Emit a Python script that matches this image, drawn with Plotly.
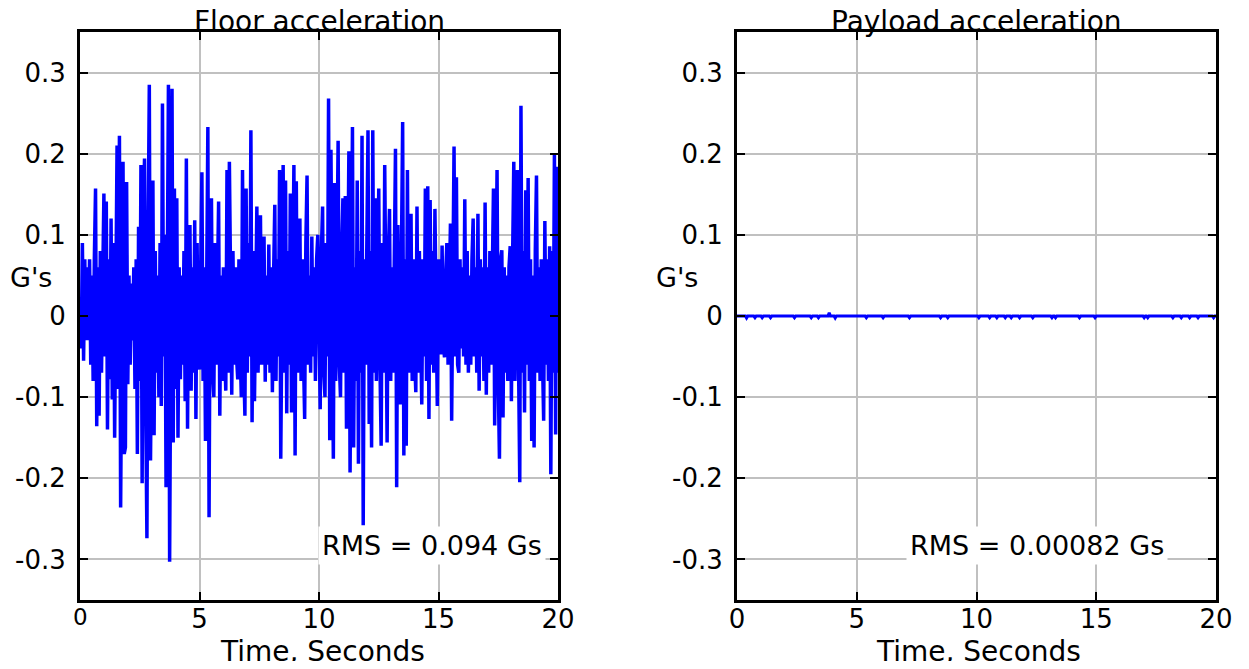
import plotly.graph_objects as go

# ---------------- data ----------------
sample_rate_hz = 20  # samples per second (time grid 0..20 s)

floor_g = [
    # 0-1 s
    0.02, -0.04, 0.09, -0.055, 0.07, -0.03, 0.06, -0.03, 0.07, -0.06,
    0.05, -0.08, 0.07, 0.157, -0.136, 0.06, -0.123, 0.08, -0.07, 0.09,
    # 1-2 s
    0.151, -0.05, 0.141, -0.14, 0.07, -0.078, 0.12, -0.103, 0.09, -0.15,
    0.06, 0.21, -0.09, 0.222, -0.236, 0.08, 0.19, -0.17, -0.162, 0.165,
    # 2-3 s
    -0.084, 0.05, -0.06, 0.04, -0.03, 0.06, -0.09, 0.07, -0.17, 0.11,
    -0.08, 0.186, -0.206, 0.13, 0.194, -0.11, -0.274, 0.1, 0.285, -0.178,
    # 3-4 s
    0.06, 0.167, -0.147, 0.08, -0.07, 0.05, -0.1, 0.09, -0.111, 0.262,
    -0.05, 0.1, -0.211, 0.07, 0.285, -0.303, 0.1, 0.28, -0.156, 0.157,
    # 4-5 s
    -0.09, 0.145, -0.15, 0.06, -0.078, 0.05, -0.06, 0.08, -0.105, 0.194,
    -0.139, 0.07, 0.112, -0.092, 0.06, -0.07, 0.118, -0.127, 0.09, -0.05,
    # 5-6 s
    -0.066, 0.07, 0.177, -0.08, 0.06, -0.154, 0.09, 0.233, -0.248, 0.08,
    0.145, -0.07, -0.1, 0.09, -0.06, 0.07, 0.141, -0.123, 0.05, -0.08,
    # 6-7 s
    0.06, -0.04, -0.092, 0.18, -0.07, 0.19, 0.05, -0.097, 0.08, -0.06,
    0.06, -0.05, -0.078, 0.07, -0.04, -0.1, 0.18, -0.06, -0.123, 0.157,
    # 7-8 s
    -0.07, 0.09, -0.05, 0.229, -0.131, 0.08, -0.105, 0.06, 0.135, -0.07,
    0.05, 0.124, -0.06, 0.07, 0.098, -0.081, 0.05, -0.06, 0.088, -0.07,
    # 8-9 s
    0.06, -0.094, 0.05, 0.137, -0.08, 0.07, -0.05, 0.18, -0.176, 0.09,
    0.186, -0.07, 0.167, -0.12, 0.08, -0.06, 0.151, -0.119, 0.07, 0.186,
    # 9-10 s
    -0.172, 0.166, -0.07, 0.06, 0.12, -0.08, 0.07, -0.05, -0.127, 0.09,
    0.173, -0.06, 0.05, -0.07, 0.098, -0.05, 0.06, -0.08, 0.07, 0.1,
    # 10-11 s
    -0.06, -0.115, 0.08, 0.135, -0.07, -0.1, 0.09, -0.05, 0.268, -0.153,
    0.205, 0.06, -0.176, 0.164, -0.08, 0.07, 0.216, -0.06, -0.1, 0.08,
    # 11-12 s
    0.145, -0.07, 0.148, -0.139, 0.07, 0.203, -0.193, 0.09, 0.233, -0.162,
    0.06, -0.08, 0.167, -0.182, 0.08, -0.07, 0.222, -0.258, 0.07, -0.06,
    # 12-13 s
    0.09, 0.229, -0.133, 0.08, -0.162, 0.229, -0.07, 0.145, -0.08, 0.06,
    0.157, -0.06, -0.16, 0.09, -0.07, 0.186, -0.05, -0.156, 0.07, 0.132,
    # 13-14 s
    -0.08, 0.06, -0.07, 0.09, 0.206, -0.211, 0.112, -0.06, -0.109, 0.08,
    0.239, -0.172, 0.07, -0.16, 0.18, -0.07, 0.06, 0.126, -0.08, 0.07,
    # 14-15 s
    -0.05, -0.094, 0.135, -0.07, 0.08, -0.06, -0.109, 0.07, -0.05, 0.157,
    -0.08, 0.16, -0.127, 0.143, -0.06, 0.08, -0.07, 0.132, -0.05, -0.111,
    # 15-16 s
    0.07, -0.04, -0.047, 0.087, -0.03, -0.051, 0.05, 0.09, -0.06, 0.07,
    0.114, -0.129, 0.06, 0.209, -0.05, 0.171, -0.06, -0.07, 0.07, -0.04,
    # 16-17 s
    0.06, -0.05, 0.144, -0.06, 0.08, -0.07, 0.05, -0.06, 0.07, 0.12,
    -0.05, 0.06, -0.07, 0.126, -0.092, 0.07, -0.05, 0.06, -0.08, 0.14,
    # 17-18 s
    -0.097, 0.06, -0.07, 0.08, -0.06, 0.07, 0.157, -0.135, 0.09, 0.18,
    -0.08, -0.176, 0.07, 0.081, -0.125, 0.06, -0.07, 0.05, -0.08, 0.06,
    # 18-19 s
    0.086, -0.105, 0.07, 0.19, -0.08, 0.09, 0.18, -0.06, -0.205, 0.259,
    -0.07, 0.08, -0.119, 0.155, -0.06, 0.17, -0.08, 0.07, -0.154, 0.05,
    # 19-20 s
    -0.162, 0.08, 0.173, -0.07, 0.06, -0.08, 0.07, -0.05, -0.129, 0.117,
    -0.06, 0.07, -0.08, 0.086, -0.195, 0.08, -0.07, 0.2, -0.146, 0.184,
    # 20 s
    -0.07,
]

payload_g = [
    0, 0, 0, 0, 0, 0, 0, 0, -0.0025, 0, 0, 0, 0, 0, 0, -0.002, 0, 0, 0, 0,
    0, -0.002, 0, 0, 0, 0, 0, 0, -0.002, 0, 0, 0, 0, 0, 0, 0, 0, 0, 0, 0,
    0, 0, 0, 0, 0, 0, 0, 0, -0.002, 0, 0, 0, 0, 0, 0, 0, 0, 0, 0, 0,
    0, 0, -0.002, 0, 0, 0, 0, 0, -0.002, 0, 0, 0, 0, 0, 0, 0, 0, 0.004, 0, 0,
    0, 0, -0.0025, 0, 0, 0, 0, 0, 0, 0, 0, 0, 0, 0, 0, 0, 0, 0, 0, 0,
    0, 0, 0, 0, 0, 0, 0, 0, -0.002, 0, 0, 0, 0, 0, 0, 0, 0, 0, 0, 0,
    0, 0, -0.002, 0, 0, 0, 0, 0, 0, 0, 0, 0, 0, 0, 0, 0, 0, 0, 0, 0,
    0, 0, 0, 0, -0.002, 0, 0, 0, 0, 0, 0, 0, 0, 0, 0, 0, 0, 0, 0, 0,
    0, 0, 0, 0, 0, 0, 0, 0, 0, 0, -0.002, 0, 0, 0, 0, 0, -0.002, 0, 0, 0,
    0, 0, 0, 0, 0, 0, 0, 0, 0, 0, 0, 0, 0, 0, 0, 0, 0, 0, 0, 0,
    0, 0, -0.002, 0, 0, 0, 0, 0, 0, 0, 0, -0.002, 0, 0, 0, 0, 0, -0.002, 0, 0,
    0, 0, 0, 0, -0.002, 0, 0, 0, 0, -0.002, 0, 0, 0, 0, 0, 0, -0.002, 0, 0, 0,
    0, 0, 0, 0, 0, 0, 0, -0.002, 0, 0, 0, 0, 0, 0, 0, 0, 0, 0, 0, 0,
    0, 0, 0, -0.002, 0, 0, -0.002, 0, 0, 0, 0, 0, 0, 0, 0, 0, 0, 0, 0, 0,
    0, 0, 0, 0, 0, 0, -0.002, 0, 0, 0, 0, 0, 0, 0, 0, 0, 0, 0, 0, -0.002,
    0, 0, 0, 0, 0, 0, 0, 0, 0, 0, 0, 0, 0, 0, 0, 0, 0, 0, 0, 0,
    0, 0, 0, 0, 0, 0, 0, 0, 0, 0, 0, 0, 0, 0, 0, 0, 0, 0, 0, 0,
    -0.002, 0, 0, -0.002, 0, 0, 0, 0, 0, 0, 0, 0, 0, 0, 0, 0, 0, 0, 0, 0,
    0, 0, 0, 0, -0.002, 0, 0, 0, 0, 0, 0, -0.002, 0, 0, 0, 0, 0, 0, -0.002, 0,
    0, 0, 0, 0, 0, -0.002, 0, 0, 0, 0, 0, 0, 0, 0, 0, 0, 0, 0, -0.002, 0,
    0,
]

time_s = [i / sample_rate_hz for i in range(len(floor_g))]

titles = ["Floor acceleration", "Payload acceleration"]
rms_labels = ["RMS = 0.094 Gs", "RMS = 0.00082 Gs"]
rms_pos = [(14.73, -0.2825), (12.53, -0.2825)]
y_label = "G's"
x_label = "Time, Seconds"
x_ticks = [0, 5, 10, 15, 20]
x_ticktext_left = ["", "5", "10", "15", "20"]
x_ticktext_right = ["0", "5", "10", "15", "20"]
y_ticks = [-0.3, -0.2, -0.1, 0, 0.1, 0.2, 0.3]
y_ticktext = ["-0.3", "-0.2", "-0.1", "0", "0.1", "0.2", "0.3"]

# ---------------- figure ----------------
# the html body has an 8px margin; size the figure so the page fits the window
OFF = 8
W, H = 1249 - 2 * OFF, 669 - 2 * OFF
FONT = "DejaVu Sans, sans-serif"


def px(x):
    return (x - OFF) / W


def py(y):
    return (H + OFF - y) / H


xdom = [[px(80), px(558)], [px(737), px(1216)]]
ydom = [py(600), py(32)]

fig = go.Figure()
fig.add_trace(go.Scatter(x=time_s, y=floor_g, mode="lines",
                         line=dict(color="#0000ff", width=3.5),
                         xaxis="x", yaxis="y", showlegend=False))
fig.add_trace(go.Scatter(x=time_s, y=payload_g, mode="lines",
                         line=dict(color="#0000ff", width=3),
                         xaxis="x2", yaxis="y2", showlegend=False))

tickfont = dict(family=FONT, size=26, color="black")
common_x = dict(range=[0, 20], tickvals=x_ticks, ticks="inside", ticklen=8,
                tickwidth=2, tickcolor="black", showgrid=True,
                gridcolor="#c0c0c0", gridwidth=2, showline=True,
                linecolor="black", linewidth=2.5, mirror="ticks",
                zeroline=False, tickfont=tickfont, ticklabelstandoff=-6,
                automargin=False)
common_y = dict(range=[-0.35, 0.35], tickvals=y_ticks, ticktext=y_ticktext,
                ticks="inside", ticklen=8, tickwidth=2, tickcolor="black",
                showgrid=True, gridcolor="#c0c0c0", gridwidth=2,
                showline=True, linecolor="black", linewidth=3, mirror="ticks",
                zeroline=False, tickfont=tickfont, ticklabelstandoff=6,
                automargin=False)

fig.update_layout(
    template="none",
    width=W, height=H, autosize=False,
    margin=dict(l=0, r=0, t=0, b=0, pad=0),
    paper_bgcolor="white", plot_bgcolor="white",
    xaxis=dict(domain=xdom[0], anchor="y", ticktext=x_ticktext_left, **common_x),
    yaxis=dict(domain=ydom, anchor="x", **common_y),
    xaxis2=dict(domain=xdom[1], anchor="y2", ticktext=x_ticktext_right, **common_x),
    yaxis2=dict(domain=ydom, anchor="x2", **common_y),
)

ann = []
title_cx = [319, 976]
xlabel_cx = [322, 978]
glabel_x = [7.5, 654]
for k in range(2):
    xref = "x" if k == 0 else "x2"
    yref = "y" if k == 0 else "y2"
    ann.append(dict(text=titles[k], xref="paper", yref="paper",
                    x=px(title_cx[k]), y=py(21.3),
                    xanchor="center", yanchor="middle", showarrow=False,
                    font=dict(family=FONT, size=28, color="black")))
    ann.append(dict(text=x_label, xref="paper", yref="paper", x=px(xlabel_cx[k]),
                    y=py(651.3), xanchor="center", yanchor="middle", showarrow=False,
                    font=dict(family=FONT, size=28, color="black")))
    ann.append(dict(text=y_label, xref="paper", yref="paper", x=px(glabel_x[k]),
                    y=py(277.7), xanchor="left", yanchor="middle", showarrow=False,
                    font=dict(family=FONT, size=27, color="black")))
    ann.append(dict(text=rms_labels[k], xref=xref, yref=yref,
                    x=rms_pos[k][0], y=rms_pos[k][1],
                    xanchor="center", yanchor="middle", showarrow=False,
                    bgcolor="white", borderpad=3,
                    font=dict(family=FONT, size=27, color="black")))

# smaller "0" under the left panel's x axis
ann.append(dict(text="0", xref="x", yref="paper", x=0, y=py(616.5),
                xanchor="center", yanchor="middle", showarrow=False,
                font=dict(family=FONT, size=23, color="black")))

fig.update_layout(annotations=ann)
fig.write_html("out.html")
